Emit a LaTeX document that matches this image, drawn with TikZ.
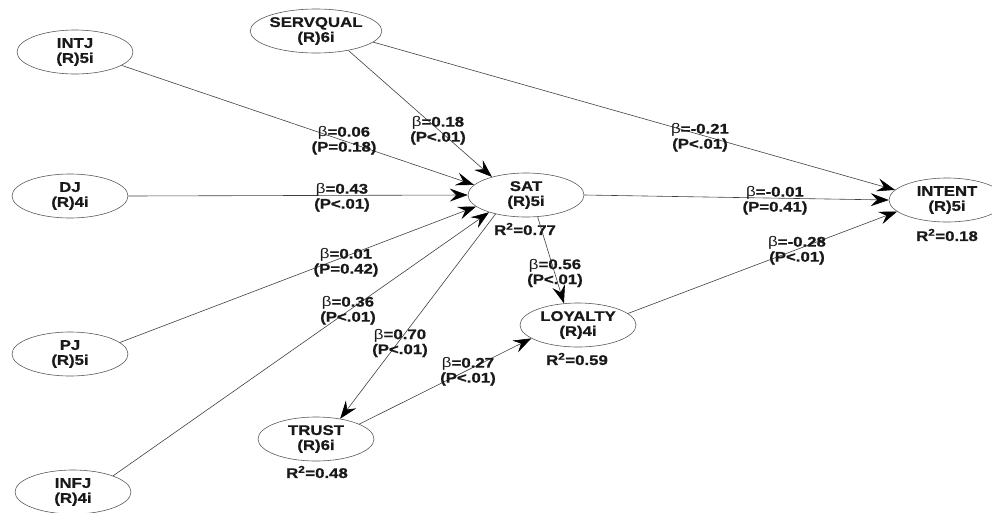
\documentclass[tikz,border=0pt]{standalone}
\usepackage{fontspec}
\setmainfont{Liberation Sans}[FakeStretch=1.2, BoldFeatures={FakeBold=0.8}]
\usetikzlibrary{arrows.meta,shapes.geometric}
\begin{document}
\begin{tikzpicture}[x=1pt,y=-1pt,
 lv/.style={ellipse, draw=black!65, line width=0.6pt, minimum width=116pt, minimum height=44pt, inner sep=0pt, align=center, font=\fontsize{14}{15}\selectfont\bfseries, text=black!90},
 lab/.style={align=center, inner sep=0pt, font=\fontsize{14}{15}\selectfont\bfseries, text=black!90},
 conn/.style={draw=black!75, line width=0.6pt, -{Stealth[length=18pt,width=13pt,inset=6.5pt,black]}}
]
\useasboundingbox (0,0) rectangle (992,512);
\newcommand{\bb}{{\mdseries β}}
% latent variables
\node[lv] (servqual) at (316,31) {SERVQUAL\\(R)6i};
\node[lv] (intj) at (75,52) {INTJ\\(R)5i};
\node[lv] (dj) at (70,196) {DJ\\(R)4i};
\node[lv] (pj) at (70,354) {PJ\\(R)5i};
\node[lv] (infj) at (73,492) {INFJ\\(R)4i};
\node[lv] (sat) at (526,195) {SAT\\(R)5i};
\node[lv] (intent) at (947,200) {INTENT\\(R)5i};
\node[lv] (loyalty) at (578,325) {LOYALTY\\(R)4i};
\node[lv] (trust) at (316,439) {TRUST\\(R)6i};
% R squared
\node[lab] (r2sat) at (525,229) {R\textsuperscript{2}=0.77};
\node[lab] (r2int) at (947,235) {R\textsuperscript{2}=0.18};
\node[lab] (r2loy) at (577,359) {R\textsuperscript{2}=0.59};
\node[lab] (r2tru) at (317,472) {R\textsuperscript{2}=0.48};
% connectors
\draw[conn] (intj.-16) -- (sat.169);
\draw[conn] (servqual.-31) -- (sat.152);
\draw[conn] (servqual.-11) -- (intent.169);
\draw[conn] (dj.east) -- (sat.180);
\draw[conn] (pj.13) -- (sat.193);
\draw[conn] (infj.22) -- (sat.205);
\draw[conn] (sat.212) -- (trust.40);
\draw[conn] (sat.-62) -- (loyalty.123);
\draw[conn] (trust.19) -- (loyalty.196);
\draw[conn] (loyalty.13) -- (intent.193);
\draw[conn] (sat.east) -- (intent.west);
% path labels
\node[lab] (l1) at (344,140.5) {\bb=0.06\\(P=0.18)};
\node[lab] (l2) at (438,130.5) {\bb=0.18\\(P<.01)};
\node[lab] (l3) at (342,197.5) {\bb=0.43\\(P<.01)};
\node[lab] (l4) at (346,262.5) {\bb=0.01\\(P=0.42)};
\node[lab] (l5) at (348,310.5) {\bb=0.36\\(P<.01)};
\node[lab] (l6) at (400,343) {\bb=0.70\\(P<.01)};
\node[lab] (l7) at (468,371.5) {\bb=0.27\\(P<.01)};
\node[lab] (l8) at (555,273) {\bb=0.56\\(P<.01)};
\node[lab] (l9) at (700,137.5) {\bb=-0.21\\(P<.01)};
\node[lab] (l10) at (775,200.5) {\bb=-0.01\\(P=0.41)};
\node[lab] (l11) at (797,250.5) {\bb=-0.28\\(P<.01)};
\end{tikzpicture}
\end{document}
